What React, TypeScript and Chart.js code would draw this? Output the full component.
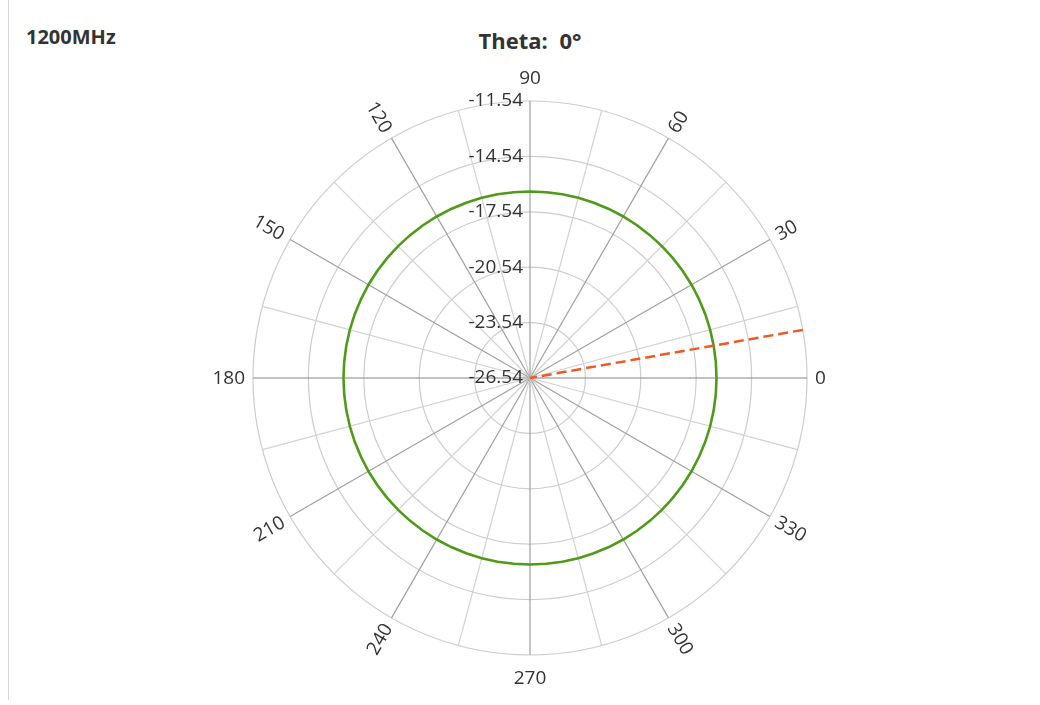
import React, { useEffect, useRef } from "react";
import { Chart, registerables } from "chart.js";

Chart.register(...registerables);

// Angle categories (degrees), clockwise from the top: 90 at top, 0 at right
const angleLabels = [
  90, 85, 80, 75, 70, 65, 60, 55, 50, 45, 40, 35, 30, 25, 20, 15, 10, 5, 0,
  355, 350, 345, 340, 335, 330, 325, 320, 315, 310, 305, 300, 295, 290, 285, 280, 275,
  270, 265, 260, 255, 250, 245, 240, 235, 230, 225, 220, 215, 210, 205, 200, 195, 190, 185,
  180, 175, 170, 165, 160, 155, 150, 145, 140, 135, 130, 125, 120, 115, 110, 105, 100, 95,
];

// Gain pattern (dB) at each angle above
const gainDb = [
  -16.44, -16.44, -16.44, -16.44, -16.44, -16.44, -16.44, -16.44, -16.44, -16.44, -16.44, -16.44,
  -16.44, -16.44, -16.44, -16.44, -16.44, -16.44, -16.44, -16.44, -16.44, -16.44, -16.44, -16.44,
  -16.44, -16.44, -16.44, -16.44, -16.44, -16.44, -16.44, -16.44, -16.44, -16.44, -16.44, -16.44,
  -16.44, -16.44, -16.44, -16.44, -16.44, -16.44, -16.44, -16.44, -16.44, -16.44, -16.44, -16.44,
  -16.44, -16.44, -16.44, -16.44, -16.44, -16.44, -16.44, -16.44, -16.44, -16.44, -16.44, -16.44,
  -16.44, -16.44, -16.44, -16.44, -16.44, -16.44, -16.44, -16.44, -16.44, -16.44, -16.44, -16.44,
];

// Cursor line: from the centre (at 5°, value = min) to the rim at 10°
const cursorAngles = [5, 10];
const cursorValues = [-26.54, -11.54];

// Radial ring tick labels (dB)
const ringValues = [-26.54, -23.54, -20.54, -17.54, -14.54, -11.54];
const ringMin = -26.54;
const ringMax = -11.54;

// Angular labels shown around the rim
const labeledAngles = [0, 30, 60, 90, 120, 150, 180, 210, 240, 270, 300, 330];

const FONT = "'Open Sans', sans-serif";

const polarLabelsPlugin = {
  id: "polarLabels",
  beforeDatasetsDraw(chart: any) {
    const scale = chart.scales.r;
    const ctx = chart.ctx;
    ctx.save();
    ctx.font = `19px ${FONT}`;
    ctx.fillStyle = "#333333";
    ctx.textAlign = "right";
    ctx.textBaseline = "middle";
    ringValues.forEach((v) => {
      const d = scale.getDistanceFromCenterForValue(v);
      ctx.fillText(v.toFixed(2), scale.xCenter - 7, scale.yCenter - d);
    });
    ctx.restore();
  },
  afterDraw(chart: any) {
    const scale = chart.scales.r;
    const ctx = chart.ctx;
    ctx.save();
    ctx.font = `19px ${FONT}`;
    ctx.fillStyle = "#333333";
    ctx.textAlign = "center";
    ctx.textBaseline = "middle";
    labeledAngles.forEach((a) => {
      const idx = angleLabels.indexOf(a);
      const text = String(a);
      const w = ctx.measureText(text).width;
      const upright = a === 90 || a === 270;
      const off = upright ? 23 : 8 + w / 2;
      const pos = scale.getPointPosition(idx, scale.drawingArea + off);
      let rot = 0;
      if (!upright) {
        rot = a > 90 && a < 270 ? 180 - a : -a;
      }
      ctx.save();
      ctx.translate(pos.x, pos.y);
      ctx.rotate((rot * Math.PI) / 180);
      ctx.fillText(text, 0, 1);
      ctx.restore();
    });
    ctx.restore();
  },
};

function spokeColor(label: any): string {
  const a = Number(label);
  if (a % 15 !== 0) return "rgba(0,0,0,0)";
  if (a === 0 || a === 180) return "#858585";
  if (a % 30 === 0) return "#a0a0a0";
  return "#d2d2d2";
}

export default function App() {
  const canvasRef = useRef<HTMLCanvasElement | null>(null);

  useEffect(() => {
    if (!canvasRef.current) return;
    const cursorData = angleLabels.map((a) => {
      const k = cursorAngles.indexOf(a);
      return k >= 0 ? cursorValues[k] : null;
    });
    const chart = new Chart(canvasRef.current, {
      type: "radar",
      data: {
        labels: angleLabels.map(String),
        datasets: [
          {
            label: "Cursor",
            data: cursorData as any,
            borderColor: "#ee5a24",
            borderWidth: 2.5,
            borderDash: [10, 5],
            pointRadius: 0,
            fill: false,
            spanGaps: false,
            tension: 0,
          },
          {
            label: "Gain",
            data: gainDb,
            borderColor: "#4f9a18",
            borderWidth: 2.6,
            pointRadius: 0,
            fill: false,
            tension: 0,
          },
        ],
      },
      options: {
        animation: false,
        responsive: false,
        devicePixelRatio: 1,
        layout: { padding: { left: 253, right: 233, top: 101, bottom: 49 } },
        plugins: {
          legend: { display: false },
          title: { display: false },
          tooltip: { enabled: false },
        },
        scales: {
          r: {
            min: ringMin,
            max: ringMax,
            startAngle: 0,
            afterBuildTicks: (s: any) => {
              s.ticks = ringValues.map((v) => ({ value: v }));
            },
            ticks: { display: false },
            pointLabels: { display: false },
            grid: { circular: true, color: "#cdcdcd", lineWidth: 1.2 },
            angleLines: {
              color: (c: any) => spokeColor(c.label),
              lineWidth: 1.2,
            },
          },
        },
      },
      plugins: [polarLabelsPlugin],
    } as any);
    return () => chart.destroy();
  }, []);

  return (
    <div style={{ position: "fixed", left: 0, top: 0, width: 1040, height: 705, background: "#fff" }}>
      <div style={{ position: "absolute", left: 8, top: 0, width: 1, height: 700, background: "#d6d6d6" }} />
      <div
        style={{
          position: "absolute",
          left: 26,
          top: 27,
          font: `bold 20px ${FONT}`,
          lineHeight: "20px",
          color: "#333",
          whiteSpace: "nowrap",
        }}
      >
        1200MHz
      </div>
      <div
        style={{
          position: "absolute",
          left: 330,
          width: 400,
          top: 29,
          textAlign: "center",
          font: `bold 22px ${FONT}`,
          lineHeight: "22px",
          wordSpacing: 6,
          color: "#333",
          whiteSpace: "nowrap",
        }}
      >
        Theta: 0°
      </div>
      <canvas
        ref={canvasRef}
        width={1040}
        height={705}
        style={{ position: "absolute", left: 0, top: 0, width: 1040, height: 705 }}
      />
    </div>
  );
}
